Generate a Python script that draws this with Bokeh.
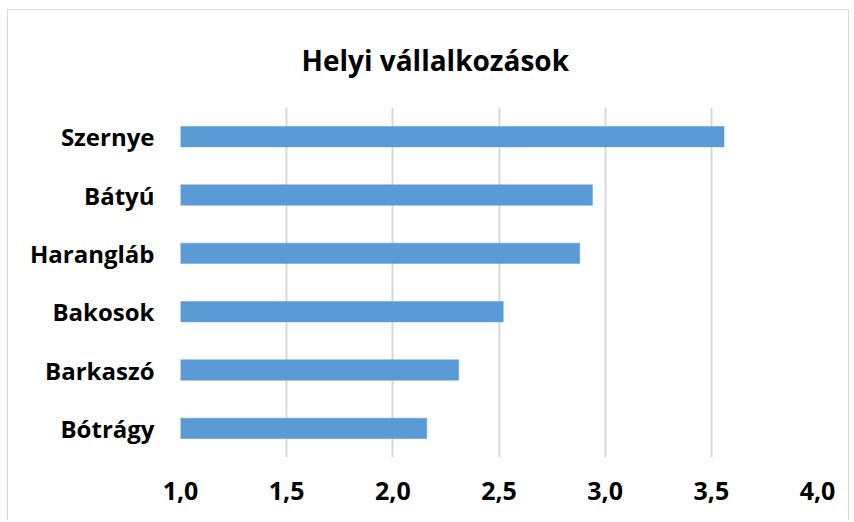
from bokeh.plotting import figure
from bokeh.models import FactorRange, Range1d, FixedTicker, CustomJSTickFormatter, ColumnDataSource
from bokeh.embed import file_html
from bokeh.resources import INLINE

title = "Helyi vállalkozások"
categories = ["Bótrágy", "Barkaszó", "Bakosok", "Harangláb", "Bátyú", "Szernye"]
values = [2.16, 2.31, 2.52, 2.88, 2.94, 3.56]
x_ticks = [1.0, 1.5, 2.0, 2.5, 3.0, 3.5, 4.0]
x_start, x_end = 1.0, 4.0

FONT = "Open Sans"

source = ColumnDataSource(dict(cat=categories, val=values))

p = figure(
    width=842, height=511,
    y_range=FactorRange(*categories, range_padding=0),
    x_range=Range1d(x_start, x_end),
    output_backend="svg", toolbar_location=None,
    min_border_left=172, min_border_right=33,
    min_border_top=96, min_border_bottom=64,
)

p.hbar(y="cat", left=x_start, right="val", height=0.35, source=source,
       fill_color="#5b9bd5", line_color="#5b9bd5", line_width=0.5)

p.title.text = title
p.title.text_font = FONT
p.title.text_font_style = "bold"
p.title.text_font_size = "28px"
p.title.text_color = "#000000"
p.title.align = "left"
p.title.offset = 121
p.title.standoff = 57

p.xaxis.ticker = FixedTicker(ticks=x_ticks)
p.xaxis.formatter = CustomJSTickFormatter(code="return tick.toFixed(1).replace('.', ',');")
for ax in (p.xaxis, p.yaxis):
    ax.axis_line_color = None
    ax.major_tick_line_color = None
    ax.minor_tick_line_color = None
    ax.major_tick_out = 0
    ax.major_tick_in = 0
    ax.major_label_text_font = FONT
    ax.major_label_text_font_style = "bold"
    ax.major_label_text_color = "#000000"
p.xaxis.major_label_text_font_size = "25px"
p.xaxis.major_label_standoff = 24
p.yaxis.major_label_text_font_size = "24px"
p.yaxis.major_label_standoff = 26

p.xgrid.grid_line_color = "#d9d9d9"
p.xgrid.grid_line_width = 2
p.ygrid.grid_line_color = None
p.outline_line_color = None
p.background_fill_color = "#ffffff"
p.border_fill_color = "#ffffff"
p.styles = {"margin-left": "7px", "margin-top": "9px",
            "border-top": "1px solid #d9d9d9", "border-left": "1px solid #d9d9d9",
            "border-right": "1px solid #d9d9d9"}

open("out.html", "w").write(file_html(p, INLINE))
